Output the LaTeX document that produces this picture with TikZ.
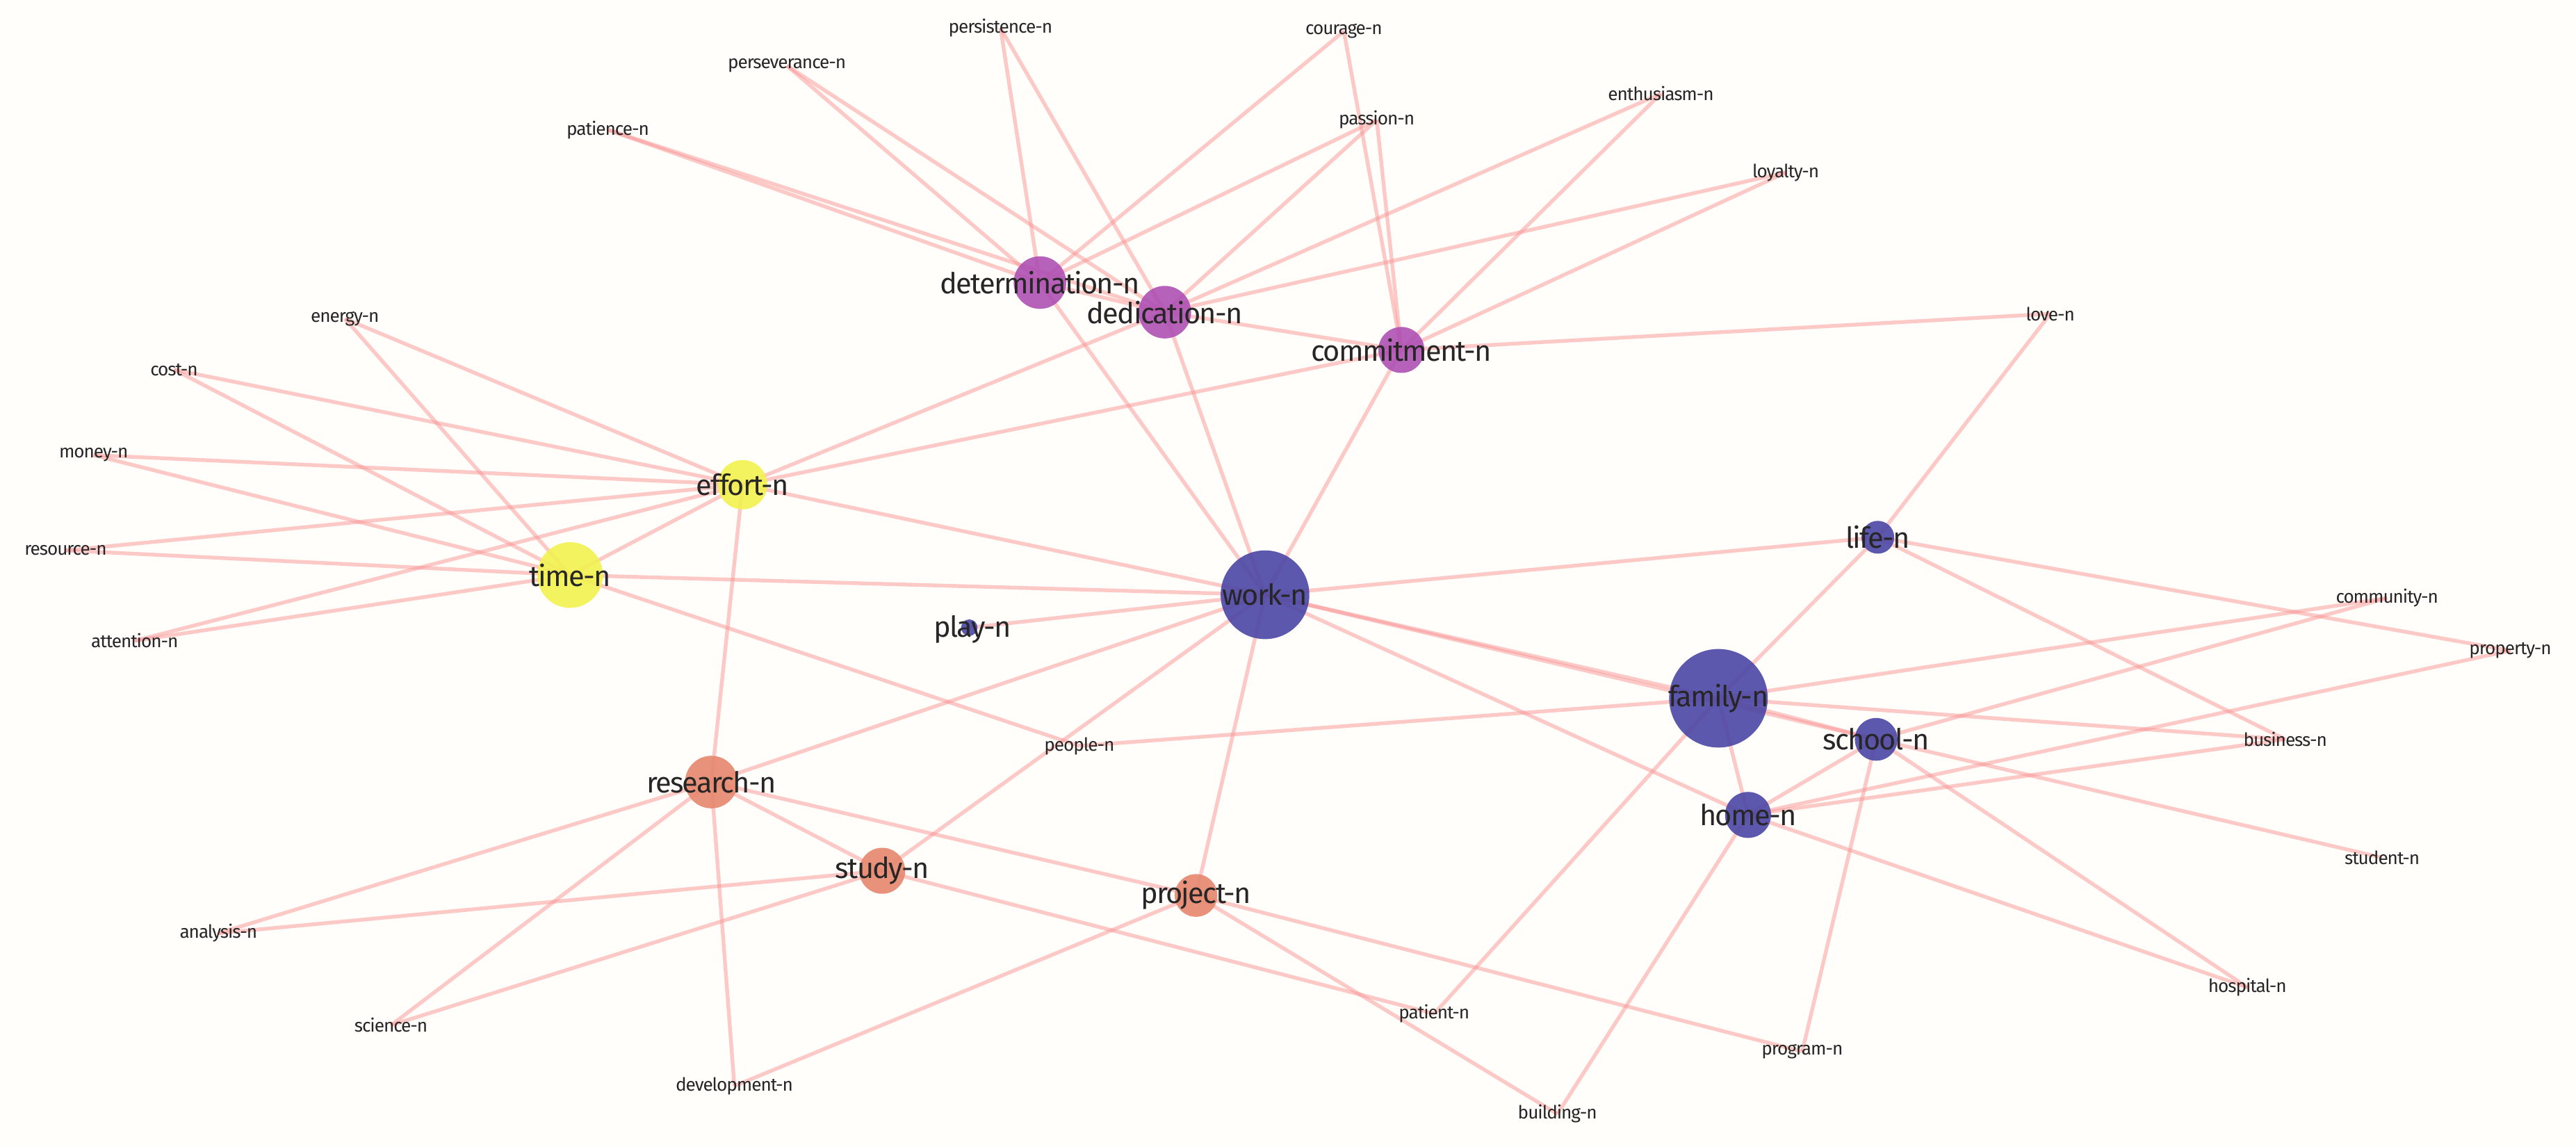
\documentclass[tikz,border=0pt]{standalone}
\usepackage{fontspec}
\setmainfont{Fira Sans}
\usetikzlibrary{backgrounds}

\definecolor{edgered}{RGB}{250,150,150}
\definecolor{hubblue}{RGB}{75,70,165}
\definecolor{hubpurple}{RGB}{175,80,180}
\definecolor{hubyellow}{RGB}{242,242,80}
\definecolor{hubsalmon}{RGB}{230,135,110}
\definecolor{paper}{RGB}{255,254,250}

\begin{document}
\begin{tikzpicture}[
    x=0.02cm, y=-0.02cm,
    dot/.style={circle, draw=none, inner sep=0, minimum size=#1*0.04cm},
    hubtxt/.style={text=black!85, font=\fontsize{10}{10}\selectfont\addfontfeature{LetterSpace=-4}, inner sep=0},
    leaf/.style={text=black!85, font=\fontsize{6.3}{7}\selectfont\addfontfeature{LetterSpace=-4}, inner sep=0},
    link/.style={draw=edgered, line width=1.3pt, opacity=0.5},
]
\useasboundingbox (0,0) rectangle (1568,697.7);

% Hubs
\node[dot=27, fill=hubblue, opacity=0.9] (work) at (770,362) {};
\node[dot=30, fill=hubblue, opacity=0.9] (family) at (1046,425) {};
\node[dot=10, fill=hubblue, opacity=0.9] (life) at (1143,327) {};
\node[dot=13, fill=hubblue, opacity=0.9] (school) at (1142,450) {};
\node[dot=14, fill=hubblue, opacity=0.9] (home) at (1064,496) {};
\node[dot=5, fill=hubblue, opacity=0.9] (play) at (590,382) {};
\node[dot=14, fill=hubpurple, opacity=0.9] (commitment) at (853,213) {};
\node[dot=16, fill=hubpurple, opacity=0.9] (dedication) at (709,190) {};
\node[dot=16, fill=hubpurple, opacity=0.9] (determination) at (633,172) {};
\node[dot=15, fill=hubyellow, opacity=0.9] (effort) at (452,295) {};
\node[dot=20, fill=hubyellow, opacity=0.9] (time) at (347,350) {};
\node[dot=16, fill=hubsalmon, opacity=0.9] (research) at (433,476) {};
\node[dot=14, fill=hubsalmon, opacity=0.9] (study) at (537,530) {};
\node[dot=13, fill=hubsalmon, opacity=0.9] (project) at (728,545) {};

% Hub labels
\node[hubtxt] (work-t) at (work) {work-n};
\node[hubtxt] (family-t) at (family) {family-n};
\node[hubtxt] (life-t) at (life) {life-n};
\node[hubtxt] (school-t) at (school) {school-n};
\node[hubtxt] (home-t) at (home) {home-n};
\node[hubtxt] (play-t) at (592,383) {play-n};
\node[hubtxt] (commitment-t) at (commitment) {commitment-n};
\node[hubtxt] (dedication-t) at (dedication) {dedication-n};
\node[hubtxt] (determination-t) at (determination) {determination-n};
\node[hubtxt] (effort-t) at (effort) {effort-n};
\node[hubtxt] (time-t) at (time) {time-n};
\node[hubtxt] (research-t) at (research) {research-n};
\node[hubtxt] (study-t) at (study) {study-n};
\node[hubtxt] (project-t) at (project) {project-n};

% Leaves
\node[leaf] (persistence) at (609,17) {persistence-n};
\node[leaf] (courage) at (818,19) {courage-n};
\node[leaf] (perseverance) at (479,40) {perseverance-n};
\node[leaf] (passion) at (838,73) {passion-n};
\node[leaf] (enthusiasm) at (1011,57) {enthusiasm-n};
\node[leaf] (patience) at (370,79) {patience-n};
\node[leaf] (loyalty) at (1087,105) {loyalty-n};
\node[leaf] (love) at (1248,191) {love-n};
\node[leaf] (energy) at (210,194) {energy-n};
\node[leaf] (cost) at (106,225) {cost-n};
\node[leaf] (money) at (57,277) {money-n};
\node[leaf] (resource) at (40,335) {resource-n};
\node[leaf] (attention) at (82,390) {attention-n};
\node[leaf] (people) at (657,454) {people-n};
\node[leaf] (community) at (1453,364) {community-n};
\node[leaf] (property) at (1528,396) {property-n};
\node[leaf] (business) at (1391,450) {business-n};
\node[leaf] (student) at (1450,522) {student-n};
\node[leaf] (analysis) at (133,568) {analysis-n};
\node[leaf] (science) at (238,624) {science-n};
\node[leaf] (development) at (447,661) {development-n};
\node[leaf] (patient) at (873,617) {patient-n};
\node[leaf] (program) at (1097,640) {program-n};
\node[leaf] (hospital) at (1368,601) {hospital-n};
\node[leaf] (building) at (948,678) {building-n};

% Paper and links behind everything
\begin{scope}[on background layer]
\fill[paper] (0,0) rectangle (1568,697.7);
\foreach \a/\b in {
    persistence/determination, persistence/dedication,
    courage/determination, courage/commitment,
    perseverance/determination, perseverance/dedication,
    patience/determination, patience/dedication,
    passion/determination, passion/dedication, passion/commitment,
    enthusiasm/dedication, enthusiasm/commitment,
    loyalty/dedication, loyalty/commitment,
    love/commitment, love/life,
    determination/dedication, dedication/commitment,
    determination/work, dedication/work, commitment/work,
    dedication/effort, commitment/effort,
    energy/effort, cost/effort, money/effort, resource/effort, attention/effort,
    energy/time, cost/time, money/time, resource/time, attention/time,
    effort/time, effort/work, effort/research, time/work, time/people,
    play/work, work/research, work/study, work/project,
    work/life, work/family, work/school, work/home,
    people/family, life/family, life/business, life/property,
    family/community, family/business, family/school, family/home, family/patient,
    school/student, school/community, school/hospital, school/program, school/home,
    home/property, home/business, home/hospital, home/building,
    research/study, research/project, research/analysis, research/science, research/development,
    study/analysis, study/science, study/patient,
    project/development, project/program, project/building}
    \draw[link] (\a.center) -- (\b.center);
\end{scope}
\end{tikzpicture}
\end{document}
